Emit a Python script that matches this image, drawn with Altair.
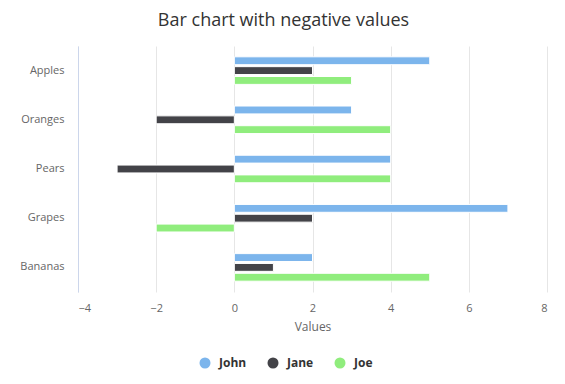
import altair as alt
import pandas as pd

categories = ["Apples", "Oranges", "Pears", "Grapes", "Bananas"]
series = ["John", "Jane", "Joe"]
john = [5, 3, 4, 7, 2]
jane = [2, -2, -3, 2, 1]
joe = [3, 4, 4, -2, 5]
colors = ["#7cb5ec", "#434348", "#90ed7d"]
x_ticks = [-4, -2, 0, 2, 4, 6, 8]

rows = []
for name, vals in zip(series, [john, jane, joe]):
    for c, v in zip(categories, vals):
        rows.append({"category": c, "series": name, "value": v})
df = pd.DataFrame(rows)

font = "Open Sans"

chart = alt.Chart(df).mark_bar(stroke="white", strokeWidth=1).encode(
    y=alt.Y("category:N", sort=categories,
            scale=alt.Scale(paddingInner=0.4, paddingOuter=0.2),
            axis=alt.Axis(title=None, domainColor="#ccd6eb", ticks=False,
                          labelColor="#666666", labelFontSize=11, labelPadding=14,
                          grid=False, labelFont=font, zindex=1)),
    yOffset=alt.YOffset("series:N", sort=series,
                        scale=alt.Scale(paddingInner=0.2, paddingOuter=0.1)),
    x=alt.X("value:Q", scale=alt.Scale(domain=[-4, 8], nice=False, zero=False),
            axis=alt.Axis(values=x_ticks, title="Values", domain=False, ticks=False,
                          gridColor="#e6e6e6", labelColor="#666666", labelFontSize=11,
                          labelFont=font, labelPadding=10, titleFont=font,
                          titleFontSize=12, titleFontWeight="normal",
                          titleColor="#666666", titlePadding=8)),
    x2=alt.datum(0),
    color=alt.Color("series:N", sort=series,
                    scale=alt.Scale(domain=series, range=colors),
                    legend=alt.Legend(orient="none", legendX=121, legendY=311,
                                      direction="horizontal", title=None,
                                      symbolType="circle", symbolSize=121,
                                      symbolStrokeWidth=0, labelFontSize=12,
                                      labelFontWeight="bold", labelColor="#333333",
                                      labelFont=font, columnPadding=20, labelOffset=8,
                                      padding=0, symbolOpacity=1)),
).properties(
    width=469, height=246,
    title=alt.TitleParams("Bar chart with negative values", fontSize=18, font=font,
                          fontWeight="normal", color="#333333", anchor="middle",
                          dx=-29, offset=16),
    autosize="none",
    padding={"left": 70, "top": 38, "right": 10, "bottom": 84},
).configure_view(stroke=None)

chart.save("out.html", embed_options={"renderer": "svg", "actions": False})
